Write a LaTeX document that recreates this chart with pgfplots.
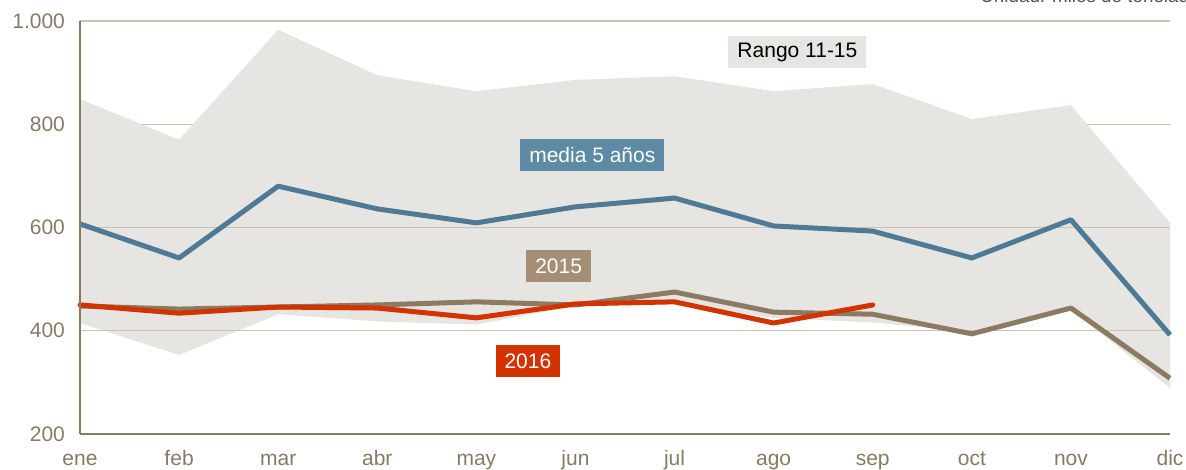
\documentclass[border=0pt]{standalone}
\usepackage{pgfplots}
\pgfplotsset{compat=1.18}
\usepgfplotslibrary{fillbetween}
\usepackage{fontspec}
\setmainfont{Liberation Sans}
\definecolor{bandc}{HTML}{E6E5E1}
\definecolor{mediac}{HTML}{4E7A95}
\definecolor{mediabox}{HTML}{5D8BA6}
\definecolor{c15}{HTML}{8C7B63}
\definecolor{c15box}{HTML}{A48F76}
\definecolor{c16}{HTML}{D23300}
\definecolor{axc}{HTML}{857B65}
\definecolor{gridc}{HTML}{C9C3B2}
\definecolor{unitc}{HTML}{555555}
\begin{document}
\begin{tikzpicture}
\begin{axis}[
  scale only axis, width=545pt, height=206.5pt,
  xmin=0, xmax=11, ymin=200, ymax=1000,
  xtick={0,...,11},
  xticklabels={ene,feb,mar,abr,may,jun,jul,ago,sep,oct,nov,dic},
  ytick={200,400,600,800,1000},
  yticklabels={200,400,600,800,{1.000}},
  axis x line*=bottom, axis y line*=left,
  axis line style={axc, line width=1pt, -},
  major tick length=0pt,
  ymajorgrids, grid style={gridc, line width=0.75pt},
  tick label style={font=\fontsize{10.5}{12}\selectfont, text=axc},
  yticklabel style={xshift=-4pt},
  xticklabel style={anchor=base, yshift=-16pt},
  clip=false,
  axis on top=false,
]
\addplot[name path=up, draw=none, forget plot] coordinates {
(0,849)(1,770)(2,983)(3,895)(4,864)(5,886)(6,893)(7,864)(8,878)(9,810)(10,837)(11,609)};
\addplot[name path=lo, draw=none, forget plot] coordinates {
(0,415)(1,353)(2,432)(3,418)(4,412)(5,448)(6,452)(7,425)(8,416)(9,398)(10,441)(11,289)};
\addplot[bandc, forget plot] fill between[of=up and lo];
\draw[gridc, line width=0.75pt] (axis cs:0,400) -- (axis cs:11,400);
\draw[gridc, line width=0.75pt] (axis cs:0,600) -- (axis cs:11,600);
\addplot[mediac, line width=2.5pt, line join=round] coordinates {
(0,607)(1,541)(2,680)(3,636)(4,609)(5,640)(6,657)(7,603)(8,593)(9,541)(10,615)(11,392)};
\addplot[c15, line width=2.5pt, line join=round] coordinates {
(0,448)(1,442)(2,446)(3,450)(4,456)(5,450)(6,475)(7,436)(8,432)(9,394)(10,444)(11,308)};
\addplot[c16, line width=2.5pt, line join=round, line cap=round] coordinates {
(0,450)(1,434)(2,446)(3,444)(4,425)(5,452)(6,456)(7,415)(8,450)};
\draw[axc, line width=1pt] (axis cs:0,200) -- (axis cs:11,200);
\draw[axc, line width=1pt] (axis cs:0,200) -- (axis cs:0,1000);
\tikzset{lab/.style={font=\fontsize{10.5}{12}\selectfont, inner xsep=4.5pt, minimum height=16pt, anchor=center}}
\node[lab, fill=bandc, text=black] at (axis cs:7.24,940) {Rango 11-15};
\node[lab, fill=mediabox, text=white] at (axis cs:5.17,740) {media 5 años};
\node[lab, fill=c15box, text=white] at (axis cs:4.83,525) {2015};
\node[lab, fill=c16, text=white] at (axis cs:4.52,341) {2016};
\end{axis}
\node[anchor=base west, text=unitc, font=\fontsize{9.4}{11}\selectfont, inner sep=0pt] at (450pt,215.5pt) {Unidad: miles de toneladas};
\pgfresetboundingbox
\path[use as bounding box] (-40pt,-18pt) rectangle (553pt,217pt);
\end{tikzpicture}
\end{document}
